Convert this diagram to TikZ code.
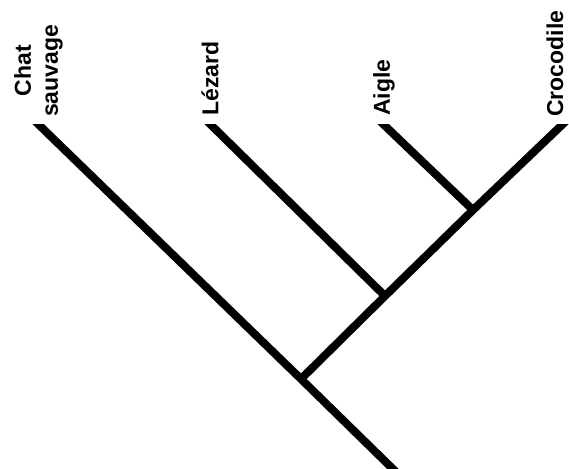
\documentclass[tikz,border=0pt]{standalone}
\usepackage{fontspec}
\setmainfont{Liberation Sans}
\usetikzlibrary{calc}
\begin{document}
\begin{tikzpicture}[x=1pt,y=-1pt,
  branch/.style={line width=8pt,line cap=butt,black},
  taxon/.style={rotate=90,anchor=west,inner sep=0pt,font=\fontsize{23}{27}\selectfont\bfseries,align=center}]
\useasboundingbox (0,0) rectangle (569,468);
% labels
\node[taxon] (chat) at (38.5,117) {Chat\\sauvage};
\node[taxon] (lez) at (210,116) {Lézard};
\node[taxon] (aig) at (384,116) {Aigle};
\node[taxon] (cro) at (555,117) {Crocodile};
% tree points
\coordinate (tchat) at (37,123);
\coordinate (tlez) at (209,123);
\coordinate (taig) at (382,123);
\coordinate (tcro) at (564,123);
\coordinate (n1) at (301,379);
\coordinate (n2) at (385,296);
\coordinate (n3) at (473,210);
\coordinate (root) at (396,472);
\begin{scope}
\clip (0,124) rectangle (569,468);
\draw[branch] ($(tchat)!-8pt!(n1)$) -- (n1) -- (root);
\draw[branch] ($(tlez)!-8pt!(n2)$) -- (n2);
\draw[branch] ($(taig)!-8pt!(n3)$) -- (n3);
\draw[branch] ($(tcro)!-8pt!(n3)$) -- (n3) -- (n2) -- (n1);
\end{scope}
\end{tikzpicture}
\end{document}
